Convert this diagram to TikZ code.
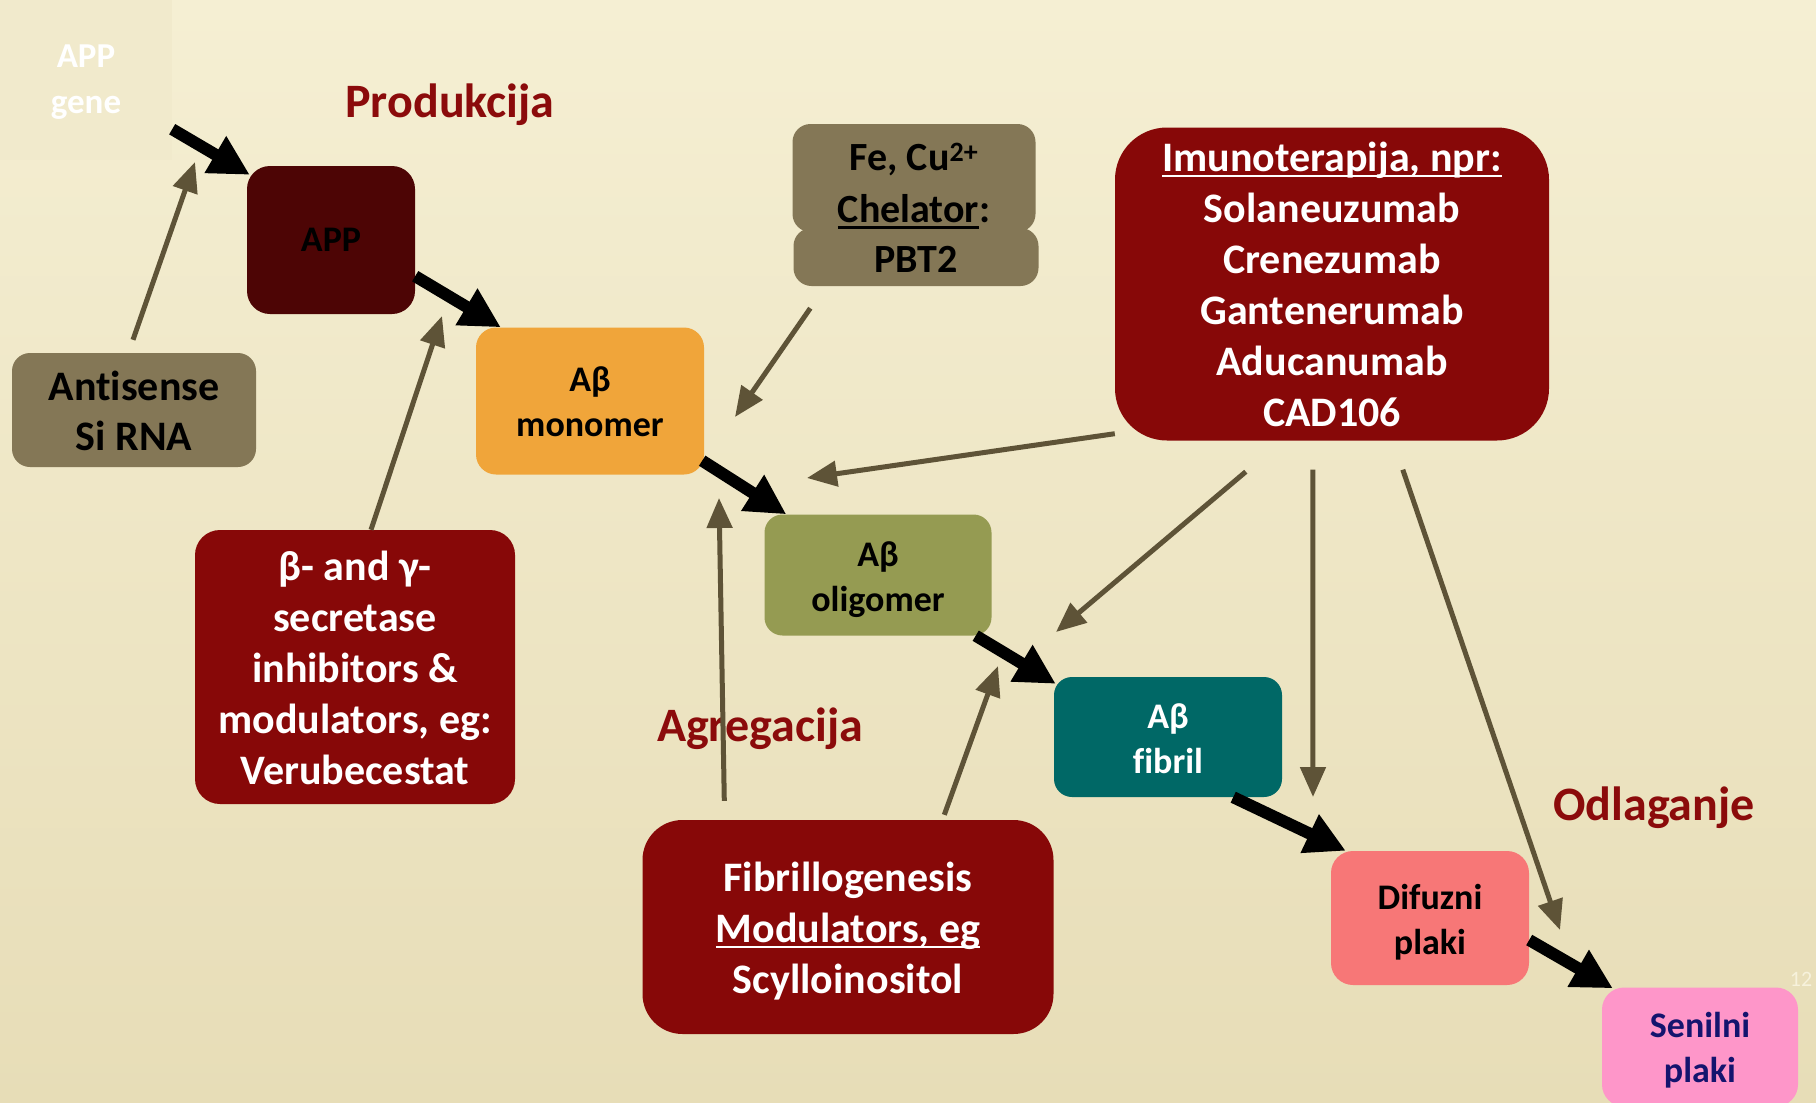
\documentclass[tikz,border=0pt]{standalone}
\usepackage{fontspec}
\setmainfont{Carlito}[Ligatures=NoCommon]
\usetikzlibrary{arrows.meta,calc}
\definecolor{bgtop}{HTML}{F5EFD3}
\definecolor{bgbot}{HTML}{E7DDB7}
\definecolor{geneC}{HTML}{F1EACC}
\definecolor{appC}{HTML}{4D0505}
\definecolor{maroon}{HTML}{870808}
\definecolor{oliveC}{HTML}{847756}
\definecolor{monoC}{HTML}{F0A53A}
\definecolor{oligoC}{HTML}{959B52}
\definecolor{fibC}{HTML}{006866}
\definecolor{difC}{HTML}{F77777}
\definecolor{senC}{HTML}{FE96C9}
\definecolor{navyC}{HTML}{14146E}
\definecolor{headC}{HTML}{8B0B0B}
\definecolor{arrC}{HTML}{5E5337}
\newcommand{\uln}[1]{\setbox0\hbox{#1}\rlap{\rule[-6pt]{\wd0}{2.5pt}}\box0}
\begin{document}
\begin{tikzpicture}[x=1pt,y=-1pt,
  bx/.style={inner sep=0pt, rounded corners=20pt},
  txt/.style={inner sep=0pt, align=center},
  bigf/.style={font=\fontsize{42}{51}\selectfont\bfseries},
  smallf/.style={font=\fontsize{36}{45}\selectfont\bfseries},
  heading/.style={text=headC, font=\fontsize{48}{50}\selectfont\bfseries, inner sep=0pt},
  thick arrow/.style={line width=12pt, draw=black, -{Triangle[length=40pt,width=40pt]}},
  thin arrow/.style={line width=5pt, draw=arrC, -{Triangle[length=30pt,width=25pt]}}
]
\shade[top color=bgtop, bottom color=bgbot] (0,0) rectangle (1816,1103);
\useasboundingbox (0,0) rectangle (1816,1103);

% boxes
\node[bx, rounded corners=0pt, fill=geneC, minimum width=172pt, minimum height=160pt] (appgene) at (86,80) {};
\node[bx, rounded corners=23pt, fill=appC, minimum width=168pt, minimum height=148pt] (app) at (331,240) {};
\node[bx, rounded corners=18pt, fill=oliveC, minimum width=244pt, minimum height=114pt] (antisense) at (134,410) {};
\node[bx, fill=monoC, minimum width=228pt, minimum height=147pt] (monomer) at (590,401) {};
\node[bx, rounded corners=18pt, fill=oliveC, minimum width=245pt, minimum height=58pt] (fe2) at (916,257) {};
\node[bx, rounded corners=18pt, fill=oliveC, minimum width=243pt, minimum height=108pt] (fe1) at (914,178) {};
\node[bx, rounded corners=52pt, fill=maroon, minimum width=434pt, minimum height=313pt] (imuno) at (1332,284) {};
\node[bx, rounded corners=25pt, fill=maroon, minimum width=320pt, minimum height=274pt] (beta) at (355,667) {};
\node[bx, rounded corners=18pt, fill=oligoC, minimum width=227pt, minimum height=121pt] (oligomer) at (878,575) {};
\node[bx, rounded corners=18pt, fill=fibC, minimum width=228pt, minimum height=120pt] (fibril) at (1168,737) {};
\node[bx, rounded corners=40pt, fill=maroon, minimum width=411pt, minimum height=214pt] (fibrillo) at (848,927) {};
\node[bx, rounded corners=22pt, fill=difC, minimum width=198pt, minimum height=134pt] (difuzni) at (1430,918) {};
\node[bx, rounded corners=22pt, fill=senC, minimum width=196pt, minimum height=119pt] (senilni) at (1700,1047) {};

% box texts
\node[txt, text=white, font=\fontsize{35}{46}\selectfont\bfseries] (appgeneT) at ($(appgene)+(0,2)$) {APP\\gene};
\node[txt, text=black, smallf] (appT) at (app) {APP};
\node[txt, text=black, font=\fontsize{42}{50}\selectfont\bfseries] (antisenseT) at ($(antisense)+(0,1)$) {Antisense\\Si RNA};
\node[txt, text=black, smallf] (monomerT) at ($(monomer)+(0,1)$) {Aβ\\monomer};
\node[txt, text=black, font=\fontsize{40}{52}\selectfont\bfseries] (fe1T) at ($(fe1)+(0,8)$) {Fe, Cu\textsuperscript{2+}\\\uln{Chelator}:};
\node[txt, text=black, font=\fontsize{40}{52}\selectfont\bfseries] (fe2T) at ($(fe2)+(0,2)$) {PBT2};
\node[txt, text=white, bigf] (imunoT) at (imuno)
  {\uln{Imunoterapija, npr:}\\Solaneuzumab\\Crenezumab\\Gantenerumab\\Aducanumab\\CAD106};
\node[txt, text=white, bigf] (betaT) at ($(beta)+(0,1)$)
  {β- and γ-\\secretase\\inhibitors \&\\modulators, eg:\\Verubecestat};
\node[txt, text=black, smallf] (oligomerT) at ($(oligomer)+(0,5)$) {Aβ\\oligomer};
\node[txt, text=white, smallf] (fibrilT) at ($(fibril)+(0,2)$) {Aβ\\fibril};
\node[txt, text=white, bigf] (fibrilloT) at ($(fibrillo)+(0,4)$)
  {Fibrillogenesis\\\uln{Modulators, eg}\\Scylloinositol};
\node[txt, text=black, smallf] (difuzniT) at ($(difuzni)+(0,4)$) {Difuzni\\plaki};
\node[txt, text=navyC, smallf] (senilniT) at ($(senilni)+(0,3)$) {Senilni\\plaki};

\node[heading] (prod) at (450,105) {Produkcija};
\node[heading] (agre) at (760,729) {Agregacija};
\node[heading] (odla) at (1654,808) {Odlaganje};
\node[text=bgtop!80!white, font=\fontsize{22}{24}\selectfont] (pnum) at (1801,979) {12};

% thick pathway arrows
\draw[thick arrow] ($(appgene.south east)+(0,-31)$) -- ($(app.north west)+(3,9)$);
\draw[thick arrow] ($(app.south east)+(0,-38)$) -- ($(monomer.north west)+(25,0)$);
\draw[thick arrow] ($(monomer.south east)+(-2,-14)$) -- ($(oligomer.north west)+(22,0)$);
\draw[thick arrow] ($(oligomer.south east)+(-16,0)$) -- ($(fibril.north west)+(2,7)$);
\draw[thick arrow] ($(fibril.south east)+(-49,0)$) -- ($(difuzni.north west)+(15,0)$);
\draw[thick arrow] ($(difuzni.east)+(0,22)$) -- ($(senilni.north west)+(11,1)$);

% thin inhibitor arrows
\coordinate (t1) at (195,162);
\coordinate (t2) at (442,316);
\coordinate (t3) at (735,417);
\coordinate (t4) at (807,478);
\coordinate (t5) at (1056,632);
\coordinate (t6) at (1313,797);
\coordinate (t7) at (1560,930);
\coordinate (t8) at (719,498);
\coordinate (t9) at (998,666);
\draw[thin arrow] ($(antisense.north)+(-1,-13)$) -- (t1);
\draw[thin arrow] ($(beta.north)+(16,0)$) -- (t2);
\draw[thin arrow] ($(fe2.south west)+(17,22)$) -- (t3);
\draw[thin arrow] ($(imuno.south west)+(0,-7)$) -- (t4);
\draw[thin arrow] ($(imuno.south west)+(131,31)$) -- (t5);
\draw[thin arrow] ($(imuno.south west)+(198,29)$) -- (t6);
\draw[thin arrow] ($(imuno.south west)+(288,29)$) -- (t7);
\draw[thin arrow] ($(fibrillo.north west)+(82,-19)$) -- (t8);
\draw[thin arrow] ($(fibrillo.north west)+(302,-5)$) -- (t9);
\end{tikzpicture}
\end{document}
